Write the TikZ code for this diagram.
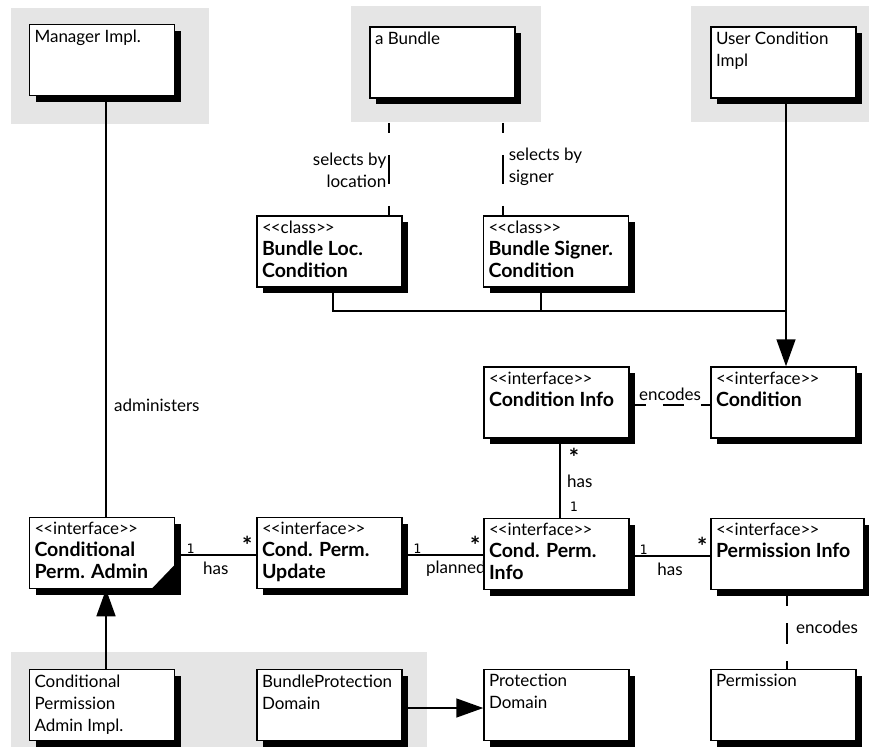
\documentclass[tikz,border=0pt]{standalone}
\usepackage{fontspec}
\setmainfont{Lato}[BoldFeatures={Scale=1.15}]
\setmonofont{DejaVu Sans Mono}
\usetikzlibrary{arrows.meta,shadows}

\tikzset{
  cls/.style={draw,line width=1.5pt,fill=white,inner sep=5pt,
    drop shadow={shadow xshift=6pt,shadow yshift=-6pt,fill=black,opacity=1}},
  conn/.style={line width=1.5pt},
  dep/.style={line width=1.5pt,dash pattern=on 21pt off 17pt,dash phase=5pt},
  sel/.style={line width=1.5pt,dash pattern=on 0pt off 24pt on 10pt off 22pt on 29pt off 22pt on 11pt off 100pt},
  gen/.style={line width=1.5pt,-{Triangle[length=27pt,width=19pt]}},
  bg/.style={fill=black!10},
  mult/.style={font=\ttfamily\fontsize{13}{13}\selectfont,inner sep=1pt},
  star/.style={font=\bfseries\fontsize{21}{21}\selectfont,inner sep=0pt}
}
\newcommand{\clstxt}[2][135pt]{\parbox[t][61pt][t]{#1}{\raggedright #2}}
\newcommand{\st}[1]{{<}\kern-1pt{<}#1{>}\kern-1pt{>}}

\begin{document}
\begin{tikzpicture}[x=1pt,y=-1pt,font=\fontsize{17}{22}\selectfont]
\useasboundingbox (0,0) rectangle (869,747);
% grey groups
\fill[bg] (11,8) rectangle (209,124);
\fill[bg] (351,6) rectangle (541,122);
\fill[bg] (691,6) rectangle (869,122);
\fill[bg] (11,652) rectangle (427,747);

% classes
\node[cls] (mgr) at (102,60) {\clstxt{Manager Impl.}};
\node[cls] (bundle) at (442.5,62.5) {\clstxt{a Bundle}};
\node[cls] (usercond) at (783.5,62.5) {\clstxt{User Condition\\Impl}};
\node[cls] (bloc) at (329.5,251.5) {\clstxt{\st{class}\\\textbf{Bundle Loc.\\Condition}}};
\node[cls] (bsign) at (556,251.5) {\clstxt{\st{class}\\\textbf{Bundle Signer.\\Condition}}};
\node[cls] (condinfo) at (556.5,402.5) {\clstxt{\st{interface}\\\textbf{Condition Info}}};
\node[cls] (cond) at (783.5,402.5) {\clstxt{\st{interface}\\\textbf{Condition}}};
\node[cls] (admin) at (102,553) {\clstxt{\st{interface}\\\textbf{Conditional\\Perm. Admin}}};
\node[cls] (update) at (329.5,553) {\clstxt{\st{interface}\\\textbf{Cond. Perm.\\Update}}};
\node[cls] (cpinfo) at (556.5,554) {\clstxt{\st{interface}\\\textbf{Cond. Perm.\\Info}}};
\node[cls] (perminfo) at (787.5,554) {\clstxt[143pt]{\st{interface}\\\textbf{Permission Info}}};
\node[cls] (cpaimpl) at (102,705) {\clstxt{Conditional\\Permission\\Admin Impl.}};
\node[cls] (bpd) at (329.5,705) {\clstxt{BundleProtection\\Domain}};
\node[cls] (pd) at (556.5,705) {\clstxt{Protection\\Domain}};
\node[cls] (perm) at (783.5,705) {\clstxt{Permission}};
\fill (admin.south east) -- ([xshift=-24pt]admin.south east) -- ([yshift=25pt]admin.south east) -- cycle;

% connectors
\draw[conn] ([xshift=4pt]mgr.south) -- node[right=4pt,pos=.735] (ladm) {administers} ([xshift=4pt]admin.north);
\draw[sel] (bundle.south -| 389,0) -- node[left,inner sep=2pt,align=right,pos=.61] (lloc) {selects by\\location} (bloc.north -| 389,0);
\draw[sel] (bundle.south -| 503,0) -- node[right,inner sep=5pt,align=left,pos=.58] (lsig) {selects by\\signer} (bsign.north -| 503,0);
\coordinate (join) at (786,311);
\draw[conn] ([xshift=3.5pt]bloc.south) |- (join);
\draw[conn] (bsign.south -| 541,0) -- (join -| 541,0);
\draw[gen] ([xshift=2.5pt]usercond.south) -- ([xshift=2.5pt]cond.north);
\draw[dep] ([yshift=-2.5pt]condinfo.east) -- node[above] (lenc1) {encodes} ([yshift=-2.5pt]cond.west);
\draw[conn] ([xshift=3.5pt]condinfo.south) -- node[star,right=8pt,pos=.24] (s1) {*}
  node[right=3pt,pos=.54] (lhas1) {has} node[mult,right=8pt,pos=.86] (m1) {1} ([xshift=3.5pt]cpinfo.north);
\draw[conn] ([yshift=-2pt]admin.east) -- node[mult,above,pos=.19] (m2) {1} node[star,above=0pt,pos=.89] (s2) {*}
  node[below=3pt,pos=.5] (lhas2) {has} ([yshift=-2pt]update.west);
\draw[conn] ([yshift=-2pt]update.east) -- node[mult,above,pos=.18] (m3) {1} node[star,above=0pt,pos=.9] (s3) {*}
  node[below=5pt,pos=.66,inner sep=0pt] (lplan) {planned} ([yshift=-1pt]cpinfo.west);
\draw[conn] ([yshift=-2pt]cpinfo.east) -- node[mult,above,pos=.17] (m4) {1} node[star,above=0pt,pos=.9] (s4) {*}
  node[below=3pt,pos=.5] (lhas3) {has} ([yshift=-2pt]perminfo.west);
\draw[dep] (perminfo.south -| 787,0) -- node[right=5pt,pos=.47] (lenc2) {encodes} (perm.north -| 787,0);
\draw[gen] ([xshift=4pt]cpaimpl.north) -- ([xshift=4pt]admin.south);
\draw[gen] ([yshift=-3pt]bpd.east) -- ([yshift=-3pt]pd.west);
\end{tikzpicture}
\end{document}
